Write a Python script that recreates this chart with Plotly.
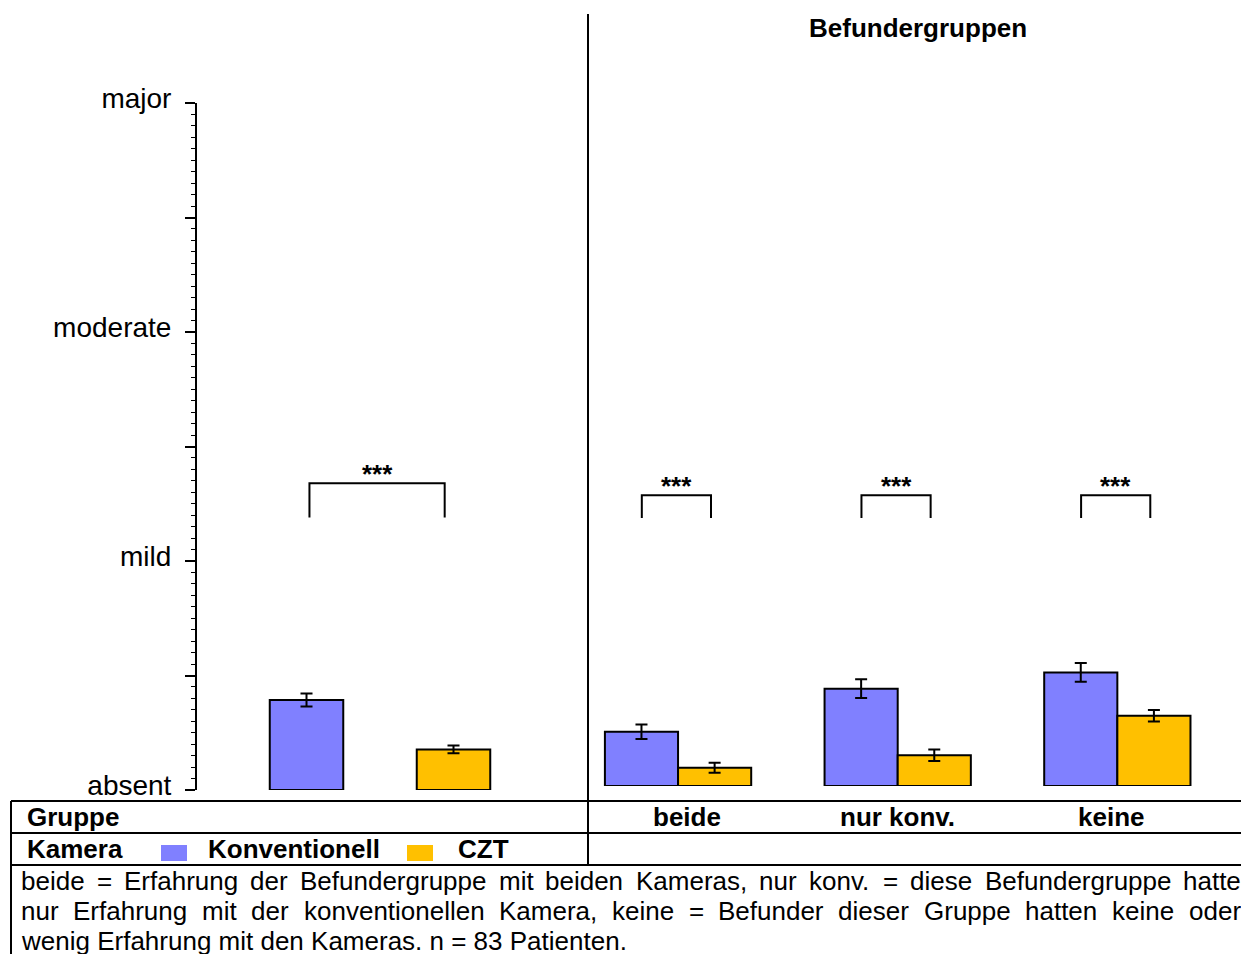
import plotly.graph_objects as go

# ---------------- data ----------------
y_tickvals = [0, 0.5, 1, 1.5, 2, 2.5, 3]
y_ticktext = ["absent", "", "mild", "", "moderate", "", "major"]

overall_labels = ["Konventionell", "CZT"]
overall_values = [0.393, 0.177]
overall_errors = [0.028, 0.017]

groups = ["beide", "nur konv.", "keine"]
konv_values = [0.237, 0.425, 0.496]
konv_errors = [0.032, 0.041, 0.041]
czt_values = [0.080, 0.134, 0.307]
czt_errors = [0.022, 0.025, 0.025]

sig_label = "***"
overall_sig_top, overall_sig_bottom = 1.34, 1.19
group_sig_top = [1.27, 1.27, 1.27]
group_sig_bottom = [1.17, 1.17, 1.17]

title_text = "Befundergruppen"
row1_label = "Gruppe"
row2_label = "Kamera"
legend_labels = ["Konventionell", "CZT"]
footer_lines = [
    "beide = Erfahrung der Befundergruppe mit beiden Kameras, nur konv. = diese Befundergruppe hatte",
    "nur Erfahrung mit der konventionellen Kamera, keine = Befunder dieser Gruppe hatten keine oder",
    "wenig Erfahrung mit den Kameras. n = 83 Patienten.",
]
footer_justify = [True, True, False]

# ---------------- style ----------------
W, H = 1241, 954
BLUE = "#8080FF"
GOLD = "#FFC000"
FONT = "Liberation Sans, Arial, sans-serif"
FS = 26
group_label_xshift = [9, 0, -6]


def px(xp):
    return xp / W


def py(yp):
    return 1 - yp / H


ARIAL = {
    'a': 556, 'b': 556, 'c': 500, 'd': 556, 'e': 556, 'f': 278, 'g': 556, 'h': 556,
    'i': 222, 'j': 222, 'k': 500, 'l': 222, 'm': 833, 'n': 556, 'o': 556, 'p': 556,
    'q': 556, 'r': 333, 's': 500, 't': 278, 'u': 556, 'v': 500, 'w': 722, 'x': 500,
    'y': 500, 'z': 500, 'B': 667, 'E': 667, 'G': 778, 'K': 667, 'P': 667, 'C': 722,
    'Z': 611, 'T': 611, '8': 556, '3': 556, '.': 278, ',': 278, '=': 584, ' ': 278,
}


def tw(s, size):
    return sum(ARIAL.get(c, 556) for c in s) * size / 1000.0


fig = go.Figure()

# left panel bars
left_x = list(range(len(overall_labels)))
left_colors = [BLUE, GOLD]
for i, lab in enumerate(overall_labels):
    fig.add_trace(go.Bar(
        x=[left_x[i]], y=[overall_values[i]], width=0.5, name=lab,
        marker=dict(color=left_colors[i], line=dict(color="black", width=2)),
        error_y=dict(type="data", array=[overall_errors[i]], color="black",
                     thickness=2, width=6),
        xaxis="x", yaxis="y", showlegend=False,
    ))

# right panel bars
gx = list(range(len(groups)))
bw = 0.333
fig.add_trace(go.Bar(
    x=gx, y=konv_values, width=bw, offset=-bw, name=legend_labels[0],
    marker=dict(color=BLUE, line=dict(color="black", width=2)),
    error_y=dict(type="data", array=konv_errors, color="black", thickness=2, width=6),
    xaxis="x2", yaxis="y2", showlegend=False,
))
fig.add_trace(go.Bar(
    x=gx, y=czt_values, width=bw, offset=0, name=legend_labels[1],
    marker=dict(color=GOLD, line=dict(color="black", width=2)),
    error_y=dict(type="data", array=czt_errors, color="black", thickness=2, width=6),
    xaxis="x2", yaxis="y2", showlegend=False,
))

shapes = []
annotations = []
STAR_FONT = dict(family=FONT, size=26, color="black", weight="bold")

# significance brackets
lx0, lx1 = left_x[0] + 0.02, left_x[1] - 0.06
shapes.append(dict(type="path", xref="x", yref="y",
                   path=f"M {lx0},{overall_sig_bottom} L {lx0},{overall_sig_top} L {lx1},{overall_sig_top} L {lx1},{overall_sig_bottom}",
                   line=dict(color="black", width=2)))
annotations.append(dict(x=(lx0 + lx1) / 2, y=overall_sig_top, xref="x", yref="y",
                        text=sig_label, showarrow=False, yanchor="bottom", yshift=-8,
                        font=STAR_FONT))
for i, g in enumerate(gx):
    x0, x1 = g - 0.165, g + 0.15
    shapes.append(dict(type="path", xref="x2", yref="y2",
                       path=f"M {x0},{group_sig_bottom[i]} L {x0},{group_sig_top[i]} L {x1},{group_sig_top[i]} L {x1},{group_sig_bottom[i]}",
                       line=dict(color="black", width=2)))
    annotations.append(dict(x=(x0 + x1) / 2, y=group_sig_top[i], xref="x2", yref="y2",
                            text=sig_label, showarrow=False, yanchor="bottom", yshift=-8,
                            font=STAR_FONT))

# divider and table lines
shapes.append(dict(type="line", xref="paper", yref="paper", x0=px(588), x1=px(588),
                   y0=py(14), y1=py(866), line=dict(color="black", width=2)))
for yl in (801, 833, 865):
    shapes.append(dict(type="line", xref="paper", yref="paper", x0=px(11), x1=px(1241),
                       y0=py(yl), y1=py(yl), line=dict(color="black", width=2)))
shapes.append(dict(type="line", xref="paper", yref="paper", x0=px(11), x1=px(11),
                   y0=py(801), y1=py(954), line=dict(color="black", width=2)))

# title
annotations.append(dict(x=px(918), y=py(28), xref="paper", yref="paper", text=title_text,
                        showarrow=False, xanchor="center", yanchor="middle",
                        font=dict(family=FONT, size=FS, color="black", weight="bold")))

# table row 1
annotations.append(dict(x=px(25), y=py(817), xref="paper", yref="paper", text=row1_label,
                        showarrow=False, xanchor="left", yanchor="middle",
                        font=dict(family=FONT, size=FS, color="black", weight="bold")))
for i, g in enumerate(groups):
    annotations.append(dict(x=gx[i], y=py(817), xref="x2", yref="paper", text=g,
                            showarrow=False, xanchor="center", yanchor="middle",
                            xshift=group_label_xshift[i],
                            font=dict(family=FONT, size=FS, color="black", weight="bold")))

# table row 2 (legend)
annotations.append(dict(x=px(25), y=py(849), xref="paper", yref="paper", text=row2_label,
                        showarrow=False, xanchor="left", yanchor="middle",
                        font=dict(family=FONT, size=FS, color="black", weight="bold")))
leg_box_x = [161, 407]
leg_text_x = [206, 456]
for i, lab in enumerate(legend_labels):
    shapes.append(dict(type="rect", xref="paper", yref="paper",
                       x0=px(leg_box_x[i]), x1=px(leg_box_x[i] + 26),
                       y0=py(861), y1=py(845), fillcolor=[BLUE, GOLD][i],
                       line=dict(width=0)))
    annotations.append(dict(x=px(leg_text_x[i]), y=py(849), xref="paper", yref="paper",
                            text=lab, showarrow=False, xanchor="left", yanchor="middle",
                            font=dict(family=FONT, size=FS, color="black", weight="bold")))

# footer (justified)
left_edge, right_edge = 20, 1240
for li, line in enumerate(footer_lines):
    yc = py(881 + 30 * li)
    words = line.split(" ")
    if footer_justify[li] and len(words) > 1:
        total = sum(tw(w, FS) for w in words)
        gap = (right_edge - left_edge - total) / (len(words) - 1)
        xcur = left_edge
        for w in words:
            annotations.append(dict(x=px(xcur), y=yc, xref="paper", yref="paper", text=w,
                                    showarrow=False, xanchor="left", yanchor="middle",
                                    xshift=-1,
                                    font=dict(family=FONT, size=FS, color="black")))
            xcur += tw(w, FS) + gap
    else:
        annotations.append(dict(x=px(left_edge), y=yc, xref="paper", yref="paper", text=line,
                                showarrow=False, xanchor="left", yanchor="middle", xshift=-1,
                                font=dict(family=FONT, size=FS, color="black")))

fig.update_layout(
    width=W, height=H, autosize=False,
    margin=dict(l=0, r=0, t=0, b=0, pad=0, autoexpand=False),
    paper_bgcolor="white", plot_bgcolor="white",
    barmode="overlay", showlegend=False,
    font=dict(family=FONT, size=FS, color="black"),
    shapes=shapes, annotations=annotations,
    xaxis=dict(domain=[px(197), px(588)], range=[-0.745, 1.915], visible=False,
               fixedrange=True, automargin=False),
    xaxis2=dict(domain=[px(588), px(1241)], range=[-0.41, 2.563], visible=False,
                anchor="y2", fixedrange=True, automargin=False),
    yaxis=dict(domain=[py(790), py(103)], range=[0, 3], tickvals=y_tickvals,
               ticktext=y_ticktext, ticks="outside", ticklen=10, tickwidth=1.5,
               tickcolor="black", showline=True, linewidth=2, linecolor="black",
               showgrid=False, zeroline=False, ticklabelstandoff=8, ticklabelshift=-5,
               tickfont=dict(family=FONT, size=28, color="black"),
               minor=dict(dtick=0.05, ticks="outside", ticklen=4, tickwidth=1,
                          tickcolor="black", showgrid=False),
               anchor="x", fixedrange=True, automargin=False),
    yaxis2=dict(domain=[py(786), py(99)], range=[0, 3], visible=False, anchor="x2",
                fixedrange=True, automargin=False),
)

fig.write_html("out.html", config={"displayModeBar": False},
               post_script="document.body.style.margin='0';document.body.style.overflow='hidden';")
